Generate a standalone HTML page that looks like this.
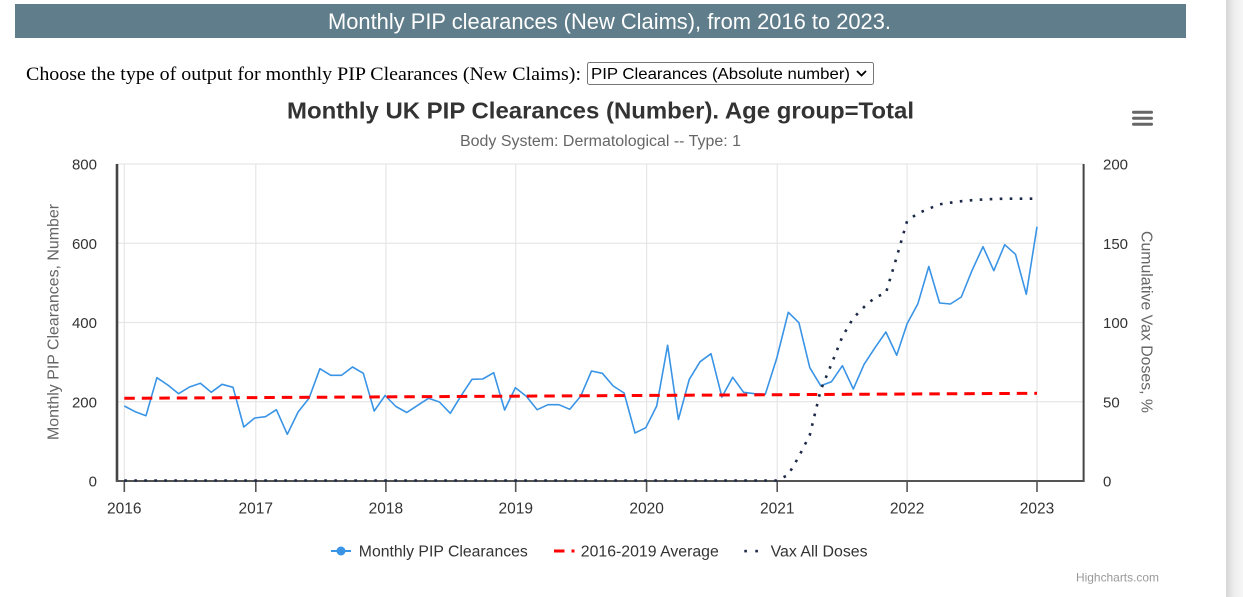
<!DOCTYPE html>
<html><head><meta charset="utf-8"><style>
html,body{margin:0;padding:0;background:#fff;width:1243px;height:597px;overflow:hidden}
svg{display:block}
text{font-family:"Liberation Sans",Arial,sans-serif}
</style></head><body>
<svg width="1243" height="597" viewBox="0 0 1243 597" xmlns="http://www.w3.org/2000/svg">
<defs>
<linearGradient id="sb" x1="0" x2="1" y1="0" y2="0">
<stop offset="0" stop-color="#d6d6d6"/><stop offset="0.5" stop-color="#eeeeee"/><stop offset="1" stop-color="#f6f6f6"/>
</linearGradient>
</defs>
<rect x="1226" y="0" width="17" height="597" fill="url(#sb)"/>
<!-- header bar -->
<rect x="15" y="4" width="1171" height="34" fill="#607d8b"/>
<text x="609.5" y="29" font-size="22" fill="#fff" text-anchor="middle" textLength="563" lengthAdjust="spacingAndGlyphs">Monthly PIP clearances (New Claims), from 2016 to 2023.</text>
<!-- choose line -->
<text x="26" y="80" font-size="19" fill="#000" style="font-family:'Liberation Serif',serif" textLength="555" lengthAdjust="spacingAndGlyphs">Choose the type of output for monthly PIP Clearances (New Claims):</text>
<rect x="587.5" y="62.5" width="286" height="22" rx="2" fill="#fff" stroke="#767676" stroke-width="1"/>
<text x="591" y="79" font-size="16" fill="#000" textLength="259" lengthAdjust="spacingAndGlyphs">PIP Clearances (Absolute number)</text>
<polyline points="857,71 861.5,75.5 866,71" fill="none" stroke="#000" stroke-width="1.8"/>
<!-- chart title -->
<text x="600.5" y="118.5" font-size="23" font-weight="bold" fill="#333" text-anchor="middle" textLength="627" lengthAdjust="spacingAndGlyphs">Monthly UK PIP Clearances (Number). Age group=Total</text>
<text x="600.5" y="146" font-size="15.5" fill="#666" text-anchor="middle" textLength="281" lengthAdjust="spacingAndGlyphs">Body System: Dermatological -- Type: 1</text>
<!-- hamburger -->
<g stroke="#666" stroke-width="3" stroke-linecap="round">
<line x1="1133.5" y1="112.3" x2="1151.5" y2="112.3"/>
<line x1="1133.5" y1="118.3" x2="1151.5" y2="118.3"/>
<line x1="1133.5" y1="124.3" x2="1151.5" y2="124.3"/>
</g>
<!-- grid -->
<g stroke="#e6e6e6" stroke-width="1.2">
<line x1="117" y1="164" x2="1084" y2="164"/>
<line x1="117" y1="243.25" x2="1084" y2="243.25"/>
<line x1="117" y1="322.5" x2="1084" y2="322.5"/>
<line x1="117" y1="401.75" x2="1084" y2="401.75"/>
<line x1="124.3" y1="164" x2="124.3" y2="481"/>
<line x1="255.8" y1="164" x2="255.8" y2="481"/>
<line x1="385.9" y1="164" x2="385.9" y2="481"/>
<line x1="515.7" y1="164" x2="515.7" y2="481"/>
<line x1="646.6" y1="164" x2="646.6" y2="481"/>
<line x1="777.2" y1="164" x2="777.2" y2="481"/>
<line x1="907.1" y1="164" x2="907.1" y2="481"/>
<line x1="1037" y1="164" x2="1037" y2="481"/>
</g>
<!-- axes -->
<line x1="117" y1="164" x2="117" y2="482" stroke="#444" stroke-width="2.6"/>
<line x1="1083.6" y1="164" x2="1083.6" y2="482" stroke="#444" stroke-width="2"/>
<line x1="116" y1="481" x2="1084.6" y2="481" stroke="#555" stroke-width="2"/>
<g stroke="#555" stroke-width="1.6">
<line x1="124.3" y1="481" x2="124.3" y2="492"/>
<line x1="255.8" y1="481" x2="255.8" y2="492"/>
<line x1="385.9" y1="481" x2="385.9" y2="492"/>
<line x1="515.7" y1="481" x2="515.7" y2="492"/>
<line x1="646.6" y1="481" x2="646.6" y2="492"/>
<line x1="777.2" y1="481" x2="777.2" y2="492"/>
<line x1="907.1" y1="481" x2="907.1" y2="492"/>
<line x1="1037" y1="481" x2="1037" y2="492"/>
</g>
<!-- left y labels -->
<g font-size="15" fill="#333" text-anchor="end">
<text x="97" y="169.5">800</text>
<text x="97" y="248.8">600</text>
<text x="97" y="328">400</text>
<text x="97" y="407.3">200</text>
<text x="97" y="486.5">0</text>
</g>
<!-- right y labels -->
<g font-size="15" fill="#333" text-anchor="start">
<text x="1103" y="169.5">200</text>
<text x="1103" y="248.8">150</text>
<text x="1103" y="328">100</text>
<text x="1103" y="407.3">50</text>
<text x="1103" y="486.5">0</text>
</g>
<!-- x labels -->
<g font-size="15.5" fill="#333" text-anchor="middle">
<text x="124.3" y="513.5">2016</text>
<text x="255.8" y="513.5">2017</text>
<text x="385.9" y="513.5">2018</text>
<text x="515.7" y="513.5">2019</text>
<text x="646.6" y="513.5">2020</text>
<text x="777.2" y="513.5">2021</text>
<text x="907.1" y="513.5">2022</text>
<text x="1037" y="513.5">2023</text>
</g>
<!-- axis titles -->
<text transform="translate(58.5,322) rotate(-90)" font-size="15.5" fill="#666" text-anchor="middle" textLength="236" lengthAdjust="spacingAndGlyphs">Monthly PIP Clearances, Number</text>
<text transform="translate(1141.5,322) rotate(90)" font-size="15.5" fill="#666" text-anchor="middle" textLength="182" lengthAdjust="spacingAndGlyphs">Cumulative Vax Doses, %</text>
<!-- series: blue -->
<polyline fill="none" stroke="#3a94e6" stroke-width="1.6" stroke-linejoin="round" points="124.3,406 135.2,411.7 146.0,415.7 156.9,377.7 167.8,385 178.6,393.7 189.5,387 200.4,383.3 211.2,392.3 222.1,384.3 233.0,387.3 243.8,427 254.7,418 265.5,416.7 276.4,409.7 287.3,434.3 298.1,412 309.0,398.3 319.9,368.7 330.7,375.3 341.6,375.3 352.5,367 363.3,373.3 374.2,411 385.1,395.5 395.9,406.5 406.8,412.5 417.7,405.3 428.5,398.3 439.4,402 450.3,413.3 461.1,395.7 472.0,379.3 482.8,379 493.7,372.7 504.6,410 515.4,387.7 526.3,396.3 537.2,409.7 548.0,404.7 558.9,404.7 569.8,409.3 580.6,396.3 591.5,371 602.4,373.3 613.2,386 624.1,393 635.0,433 645.8,427.7 656.7,406 667.6,345.3 678.4,419.5 689.3,379.3 700.1,361.7 711.0,353.7 721.9,397 732.7,377.3 743.6,392.3 754.5,393.7 765.3,394.3 776.8,358 788.3,312.3 798.9,322.7 809.8,367.7 820.7,385.7 831.5,381.7 842.4,365.7 853.3,389 864.1,364.3 875.0,347.7 885.9,332 896.7,355.3 907.1,323.7 917.9,303.7 928.8,266.5 939.6,303 950.4,304 961.3,297 972.1,270.3 983.0,246.7 993.8,270.7 1004.7,244.7 1015.5,254.3 1026.3,294.3 1037.0,226.7"/>
<!-- series: red average -->
<line x1="124.3" y1="398.3" x2="1037" y2="393.3" stroke="#ff0000" stroke-width="3" stroke-dasharray="10.5,7"/>
<!-- series: vax -->
<polyline fill="none" stroke="#1c2a48" stroke-width="2.6" stroke-dasharray="2.6,7.4" points="124.3,480.5 776.8,480.5 788.1,475 798.9,456.5 809.8,435 820.7,390 831.5,364 842.4,336.5 853.3,318 864.1,307 875.0,297.5 885.9,293 896.7,257 907.1,221 917.9,213.3 928.8,208.7 939.6,204.3 950.4,202.7 961.3,201.2 972.1,200.2 983.0,199.5 993.8,199 1004.7,198.7 1015.5,198.7 1026.3,198.7 1037.0,198.7"/>
<!-- legend -->
<line x1="331" y1="551" x2="351" y2="551" stroke="#3a94e6" stroke-width="2"/>
<circle cx="341" cy="551" r="4.5" fill="#3a94e6"/>
<text x="358.8" y="556.5" font-size="15.5" fill="#333" textLength="169" lengthAdjust="spacingAndGlyphs">Monthly PIP Clearances</text>
<line x1="554" y1="551" x2="564.5" y2="551" stroke="#ff0000" stroke-width="3"/>
<line x1="571.5" y1="551" x2="574.5" y2="551" stroke="#ff0000" stroke-width="3"/>
<text x="580.8" y="556.5" font-size="15.5" fill="#333" textLength="138" lengthAdjust="spacingAndGlyphs">2016-2019 Average</text>
<rect x="744.3" y="549.8" width="2.6" height="2.6" fill="#1c2a48"/>
<rect x="755.3" y="549.8" width="2.6" height="2.6" fill="#1c2a48"/>
<text x="770.6" y="556.5" font-size="15.5" fill="#333" textLength="97" lengthAdjust="spacingAndGlyphs">Vax All Doses</text>
<!-- credits -->
<text x="1076" y="581.5" font-size="12" fill="#999" textLength="83" lengthAdjust="spacingAndGlyphs">Highcharts.com</text>
</svg>
</body></html>
